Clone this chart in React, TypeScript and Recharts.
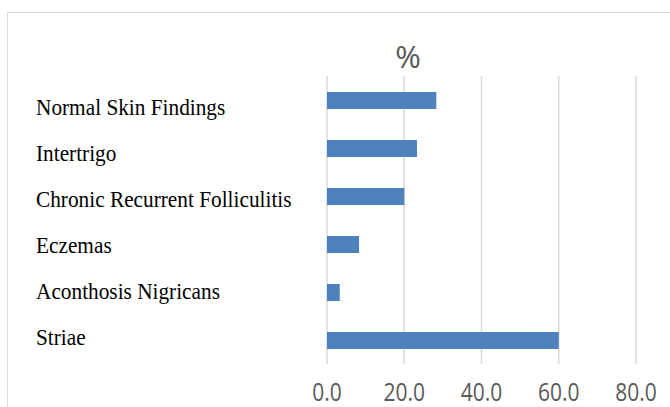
import React from "react";
import { BarChart, Bar, XAxis, YAxis, CartesianGrid } from "recharts";

const categories = [
  "Normal Skin Findings",
  "Intertrigo",
  "Chronic Recurrent Folliculitis",
  "Eczemas",
  "Aconthosis Nigricans",
  "Striae",
];
const percentValues = [28.3, 23.3, 20.0, 8.3, 3.3, 60.0];
const xTicks = [0, 20, 40, 60, 80];
const chartTitle = "%";

const data = categories.map((name, i) => ({ name, value: percentValues[i] }));

const CategoryTick = (props: any) => {
  const { y, payload, index } = props;
  const shift = (2.5 - index) * 2 + 2;
  return (
    <g transform={`translate(36,${y + shift}) scale(1,1.12)`}>
      <text
        x={0}
        y={0}
        dy="0.33em"
        textAnchor="start"
        fontFamily="'Liberation Serif', 'Times New Roman', serif"
        fontSize={21.3}
        fill="#000000"
      >
        {payload.value}
      </text>
    </g>
  );
};

const ValueTick = (props: any) => {
  const { x, y, payload } = props;
  return (
    <g transform={`translate(${x},${y + 37}) scale(1,1.18)`}>
      <text
        x={0}
        y={0}
        textAnchor="middle"
        fontFamily="'Open Sans', 'Noto Sans', sans-serif"
        fontSize={21}
        fill="#595959"
      >
        {Number(payload.value).toFixed(1)}
      </text>
    </g>
  );
};

export default function App() {
  return (
    <div
      style={{
        position: "absolute",
        left: 0,
        top: 0,
        width: 670,
        height: 407,
        background: "#ffffff",
        overflow: "hidden",
      }}
    >
      <div
        style={{
          position: "absolute",
          left: 7,
          top: 12,
          width: 680,
          height: 420,
          borderTop: "1.5px solid #d9d9d9",
          borderLeft: "1.5px solid #d9d9d9",
          boxSizing: "border-box",
        }}
      />
      <div
        style={{
          position: "absolute",
          left: 358,
          width: 100,
          top: 34,
          textAlign: "center",
          fontFamily: "'Open Sans', 'Noto Sans', sans-serif",
          fontSize: 31,
          color: "#595959",
          lineHeight: "44px",
        }}
      >
        {chartTitle}
      </div>
      <div style={{ position: "absolute", left: 0, top: 0 }}>
        <BarChart
          width={670}
          height={407}
          data={data}
          layout="vertical"
          margin={{ top: 76, right: 34, left: 8, bottom: 0 }}
        >
          <CartesianGrid
            horizontal={false}
            vertical={true}
            stroke="#d9d9d9"
            strokeWidth={1.5}
          />
          <XAxis
            type="number"
            domain={[0, 80]}
            ticks={xTicks}
            axisLine={false}
            tickLine={false}
            tickSize={0}
            tickMargin={0}
            height={43}
            tick={<ValueTick />}
            interval={0}
          />
          <YAxis
            type="category"
            dataKey="name"
            width={319}
            axisLine={false}
            tickLine={false}
            tick={<CategoryTick />}
            interval={0}
          />
          <Bar
            dataKey="value"
            fill="#4f81bd"
            barSize={17}
            isAnimationActive={false}
          />
        </BarChart>
      </div>
    </div>
  );
}
